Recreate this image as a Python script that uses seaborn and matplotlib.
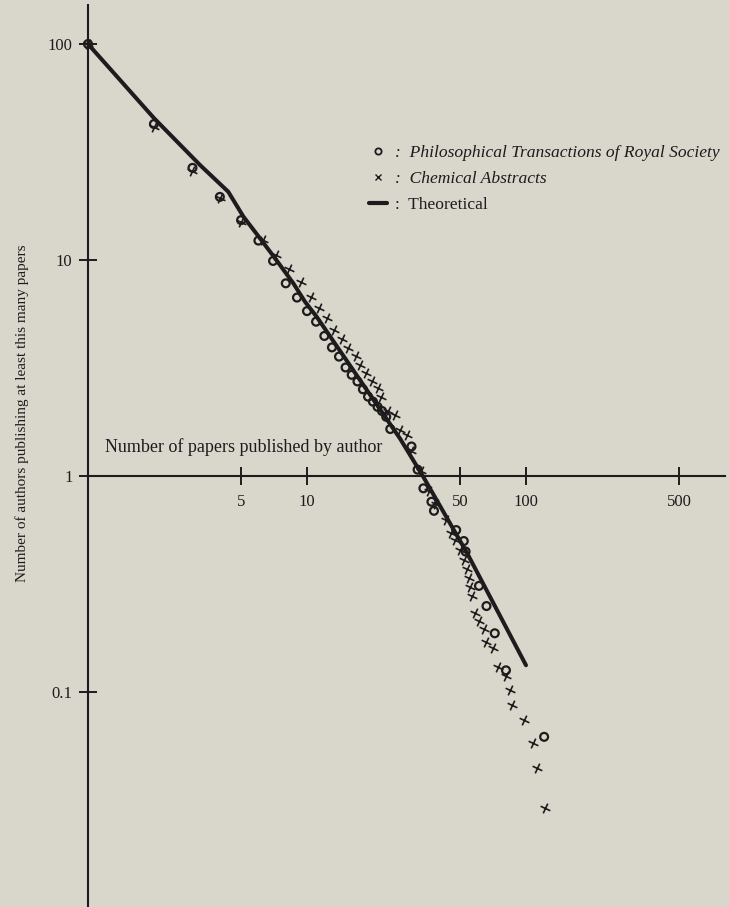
import matplotlib
matplotlib.use("Agg")
import matplotlib.pyplot as plt
import seaborn as sns
import pandas as pd
from matplotlib.lines import Line2D
from matplotlib.markers import MarkerStyle
from matplotlib.transforms import Affine2D
from matplotlib.ticker import FixedLocator, NullLocator

# ---------------- data ----------------
theo_x = [1, 2, 3.25, 4.37, 5.12, 6.1, 7.14, 8.66, 9.79, 11.07, 26.6, 33.8, 53.8, 100]
theo_y = [100, 45.4, 27.5, 20.7, 15.9, 12.6, 10.2, 7.8, 6.41, 5.46, 1.49, 1.0, 0.44, 0.133]

phil_x = [1, 2, 3, 4, 5, 6, 7, 8, 9, 10, 11, 12, 13, 14, 15, 16, 17, 18, 19, 20,
          21, 22, 23, 24, 30, 32, 34, 37, 38, 48, 52, 53, 61, 66, 72, 81, 121]
phil_y = [100, 42.6, 26.7, 19.6, 15.3, 12.3, 9.9, 7.8, 6.7, 5.8, 5.18, 4.45, 3.94,
          3.57, 3.18, 2.94, 2.74, 2.52, 2.33, 2.21, 2.09, 2.0, 1.88, 1.65, 1.37,
          1.07, 0.877, 0.76, 0.69, 0.562, 0.50, 0.447, 0.31, 0.25, 0.187, 0.126, 0.062]

chem_x = [1, 2, 3, 4, 5, 6.3, 7.2, 8.3, 9.36, 10.4, 11.3, 12.4, 13.3, 14.4, 15.4,
          16.7, 17.5, 18.6, 19.9, 21, 21.7, 23.5, 25.2, 26.7, 28.6, 30, 33, 36, 39,
          43.3, 45.5, 47.5, 50, 52, 53.9, 55, 55.4, 56.8, 58.5, 61, 64, 66, 71,
          74.5, 81, 84.5, 86.7, 98, 108, 112.5, 122]
chem_y = [100, 41.3, 25.8, 19.4, 15.0, 12.4, 10.5, 9.08, 7.88, 6.76, 5.97, 5.41,
          4.74, 4.30, 3.93, 3.6, 3.27, 3.0, 2.74, 2.55, 2.31, 1.99, 1.92, 1.63,
          1.55, 1.30, 1.05, 0.85, 0.74, 0.625, 0.543, 0.506, 0.454, 0.408, 0.37,
          0.336, 0.307, 0.278, 0.233, 0.213, 0.195, 0.171, 0.159, 0.13, 0.118,
          0.102, 0.087, 0.074, 0.058, 0.0444, 0.029]

x_ticks = [5, 10, 50, 100, 500]
x_tick_labels = ["5", "10", "50", "100", "500"]
y_ticks = [0.1, 1, 10, 100]
y_tick_labels = ["0.1", "1", "10", "100"]

x_label = "Number of papers published by author"
y_label = "Number of authors publishing at least this many papers"
legend_labels = [":  Philosophical Transactions of Royal Society",
                 ":  Chemical Abstracts",
                 ":  Theoretical"]

# ---------------- style ----------------
W, H = 729, 907
INK = "#1d1b1c"
PAPER = "#d9d7cc"

sns.set_theme(style="white")
plt.rcParams["font.family"] = ["Liberation Serif", "DejaVu Serif"]

fig = plt.figure(figsize=(W / 100, H / 100), dpi=100, facecolor=PAPER)
ax = fig.add_axes([0, 0, 1, 1])
ax.set_facecolor(PAPER)
ax.set_xscale("log")
ax.set_yscale("log")

X0, XDEC = 88, 219      # pixel of x=1, pixels per decade
Y100, YDEC = 44, 216    # pixel of y=100, pixels per decade


def px2x(p):
    return 10 ** ((p - X0) / XDEC)


def px2y(p):
    return 10 ** (2 - (p - Y100) / YDEC)


ax.set_xlim(px2x(0), px2x(W))
ax.set_ylim(px2y(H), px2y(0))

# ---------------- marks ----------------
theo = pd.DataFrame({"x": theo_x, "y": theo_y})
phil = pd.DataFrame({"x": phil_x, "y": phil_y})
chem = pd.DataFrame({"x": chem_x, "y": chem_y})

sns.lineplot(data=theo, x="x", y="y", ax=ax, color=INK, linewidth=2.9,
             sort=False, estimator=None, zorder=3)

cross = MarkerStyle("x", transform=Affine2D().rotate_deg(20))
sns.scatterplot(data=chem, x="x", y="y", ax=ax, marker=cross, color=INK,
                s=30, linewidth=1.2, zorder=4)
sns.scatterplot(data=phil, x="x", y="y", ax=ax, marker="o", color=INK,
                s=32, linewidth=1.6, zorder=5)
ax.collections[-1].set_facecolor("none")
ax.collections[-1].set_edgecolor(INK)

# ---------------- axes ----------------
for s in ["top", "right"]:
    ax.spines[s].set_visible(False)
ax.spines["left"].set_position(("data", 1))
ax.spines["bottom"].set_position(("data", 1))
ax.spines["left"].set_bounds(px2y(H), px2y(5))
ax.spines["bottom"].set_bounds(1, px2x(725))
for s in ["left", "bottom"]:
    ax.spines[s].set_color(INK)
    ax.spines[s].set_linewidth(1.5)
    ax.spines[s].set_zorder(2)

ax.xaxis.set_major_locator(FixedLocator(x_ticks))
ax.xaxis.set_minor_locator(NullLocator())
ax.yaxis.set_major_locator(FixedLocator(y_ticks))
ax.yaxis.set_minor_locator(NullLocator())
ax.set_xticklabels(x_tick_labels)
ax.set_yticklabels(y_tick_labels)
ax.tick_params(axis="both", which="major", direction="inout", length=13.5,
               width=1.4, color=INK, labelcolor=INK, labelsize=12,
               bottom=True, left=True)
ax.tick_params(axis="x", pad=6.5)
ax.tick_params(axis="y", pad=4.5)
ax.set_xlabel("")
ax.set_ylabel("")
ax.grid(False)

ax.text(105 / W, 1 - 447 / H, x_label, transform=ax.transAxes, ha="left",
        va="center", fontsize=13, color=INK)
ax.text(22 / W, 1 - 413 / H, y_label, transform=ax.transAxes, ha="center",
        va="center", rotation=90, fontsize=11, color=INK)

handles = [
    Line2D([], [], ls="none", marker="o", mfc="none", mec=INK, mew=1.3, ms=4.5),
    Line2D([], [], ls="none", marker="x", color=INK, mew=1.0, ms=5),
    Line2D([], [], color=INK, lw=3),
]
leg = ax.legend(handles, legend_labels, loc="upper left",
                bbox_to_anchor=(369 / W, 1 - 145 / H), frameon=False,
                fontsize=12.6, handlelength=1.05, handletextpad=0.45,
                labelspacing=0.55, borderpad=0, borderaxespad=0)
for t in leg.get_texts():
    t.set_color(INK)
for t in leg.get_texts()[:2]:
    t.set_style("italic")

fig.savefig("out.png", dpi=100, facecolor=PAPER)
